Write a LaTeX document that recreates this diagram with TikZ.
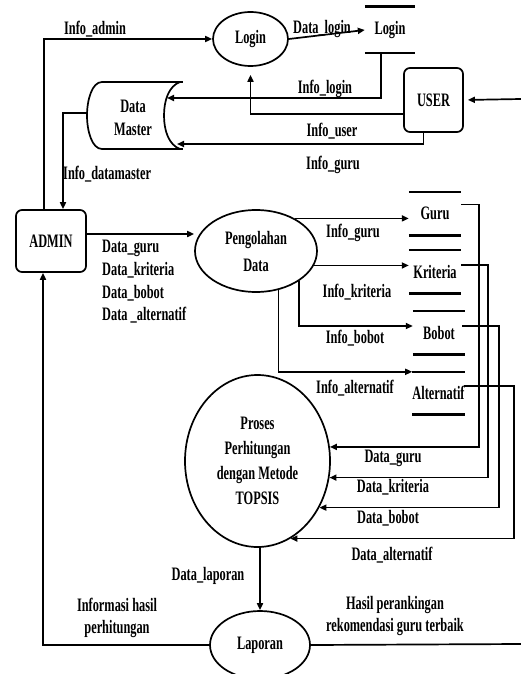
\documentclass[tikz,border=0pt]{standalone}
\usepackage{fontspec}
\setmainfont{Liberation Serif}[FakeStretch=0.65]
\usetikzlibrary{shapes.geometric,arrows.meta,calc}
\begin{document}
\begin{tikzpicture}[x=1pt,y=-1pt,
  txt/.style={font=\fontsize{19}{22.5}\selectfont\bfseries, inner sep=1pt},
  proc/.style={txt, ellipse, draw, line width=1.7pt, inner sep=0pt, align=center},
  ent/.style={txt, draw, rounded corners=6pt, line width=1.7pt, align=center},
  storebox/.style={txt, inner sep=0pt},
  storeline/.style={line width=2.6pt},
  flow/.style={line width=1.7pt, -{Triangle[length=7pt,width=6pt]}},
  plain/.style={line width=1.7pt},
  lbl/.style={txt}]
\path[use as bounding box, clip] (0,0) rectangle (521,674);

% processes
\node[proc, minimum width=75pt, minimum height=54pt] (login) at (250.5,39) {Login};
\node[proc, minimum width=122pt, minimum height=82pt, font=\fontsize{19}{27}\selectfont\bfseries] (peng) at (256,251) {Pengolahan\\Data};
\node[proc, minimum width=145pt, minimum height=172pt, font=\fontsize{19}{25}\selectfont\bfseries] (proses) at (257.5,461) {Proses\\Perhitungan\\dengan Metode\\TOPSIS};
\node[proc, minimum width=100pt, minimum height=68pt] (lap) at (260,645) {Laporan};

% entities
\node[ent, minimum width=59pt, minimum height=64pt] (user) at (433.5,100) {USER};
\node[ent, minimum width=70pt, minimum height=62pt] (admin) at (51,241) {ADMIN};

% data stores
\node[storebox, minimum width=50pt, minimum height=46pt] (lstore) at (390,30) {Login};
\draw[storeline] (lstore.north west) -- (lstore.north east) (lstore.south west) -- (lstore.south east);
\node[storebox, minimum width=52pt, minimum height=43pt] (guru) at (435,213.5) {Guru};
\draw[storeline] (guru.north west) -- (guru.north east) (guru.south west) -- (guru.south east);
\node[storebox, minimum width=52pt, minimum height=43pt] (krit) at (435,271.5) {Kriteria};
\draw[storeline] (krit.north west) -- (krit.north east) (krit.south west) -- (krit.south east);
\node[storebox, minimum width=52pt, minimum height=43pt] (bobot) at (439,332.5) {Bobot};
\draw[storeline] (bobot.north west) -- (bobot.north east) (bobot.south west) -- (bobot.south east);
\node[storebox, minimum width=50pt, minimum height=42pt] (alt) at (438.5,393) {Alternatif};
\draw[storeline] (alt.north west) -- (alt.north east) (alt.south west) -- (alt.south east);

% Data Master store
\node[txt, align=center, font=\fontsize{19}{23}\selectfont\bfseries] (dm) at (133,118) {Data\\Master};
\draw[line width=1.7pt] (102,82) -- (183,82) (102,149) -- (183,149);
\draw[line width=1.7pt] (102,82) .. controls (92,82) and (87,100) .. (87,115.5) .. controls (87,131) and (92,149) .. (102,149);
\draw[line width=1.7pt] (180,82) .. controls (169,86) and (164,100) .. (164,115.5) .. controls (164,131) and (169,145) .. (180,149);
\coordinate (dmA) at (167,98);
\coordinate (dmB) at (177,144);
\coordinate (dmL) at (87,113);
\coordinate (uin) at (521,99);
\coordinate (rEdge) at (521,644);

% connectors
\draw[flow] ([xshift=-7pt]admin.north) |- (login.west);
\draw[flow] (login.east) -- (lstore.west);
\draw[flow] ([xshift=-9pt]lstore.south) |- (dmA);
\draw[flow, shorten >=4pt] (uin) -- (user.east);
\draw[flow, shorten >=8pt] ([yshift=-14pt]user.west) -| (login.south);
\draw[flow] ([xshift=-10pt]user.south) |- (dmB);
\draw[flow] (dmL) -| ([xshift=12pt]admin.north);
\draw[flow] ([yshift=7pt]admin.east) -- ([yshift=7pt]admin.east -| peng.west);

\draw[flow] (peng.40) -- (peng.40 -| guru.west);
\draw[flow] (peng.-14) -- (peng.-14 -| krit.west);
\draw[flow] (peng.-35) |- ([yshift=6.5pt]bobot.west);
\draw[flow] (peng.-60) |- (alt.north west);

\draw[flow] ([yshift=9pt]guru.east) -- ++(18,0) |- (proses.11);
\draw[flow] ([yshift=6.5pt]krit.east) -- ++(27,0) |- (proses.-13);
\draw[flow] ([yshift=6.5pt,xshift=-3pt]bobot.east) -- ++(37,0) |- (proses.-37);
\draw[flow] ([yshift=7pt,xshift=-1pt]alt.east) -- ++(50,0) |- (proses.-67);

\draw[flow] (lap.north |- proses.south) -- (lap.north);
\draw[flow] (lap.west) -| ([xshift=-8pt]admin.south);
\draw[plain] (lap.east) -- (rEdge);

% labels
\node[lbl] (l1) at (95,29) {Info\_admin};
\node[lbl] (l2) at (322,29) {Data\_login};
\node[lbl] (l3) at (325,89) {Info\_login};
\node[lbl] (l4) at (332,131) {Info\_user};
\node[lbl] (l5) at (333,165) {Info\_guru};
\node[lbl, anchor=west] (l6) at (62,174) {Info\_datamaster};
\node[lbl, anchor=west] (l7) at (101,248) {Data\_guru};
\node[lbl, anchor=west] (l8) at (101,270) {Data\_kriteria};
\node[lbl, anchor=west] (l9) at (101,293) {Data\_bobot};
\node[lbl, anchor=west] (l10) at (101,315) {Data \_alternatif};
\node[lbl] (l11) at (353,233) {Info\_guru};
\node[lbl] (l12) at (357,292) {Info\_kriteria};
\node[lbl] (l13) at (355,338) {Info\_bobot};
\node[lbl] (l14) at (355,388) {Info\_alternatif};
\node[lbl] (l15) at (393,458) {Data\_guru};
\node[lbl] (l16) at (393,487) {Data\_kriteria};
\node[lbl] (l17) at (388,518) {Data\_bobot};
\node[lbl] (l18) at (392,555) {Data\_alternatif};
\node[lbl] (l19) at (208,576) {Data\_laporan};
\node[lbl, align=center] (l20) at (117,618) {Informasi hasil\\perhitungan};
\node[lbl, align=center] (l21) at (395,616) {Hasil perankingan\\rekomendasi guru terbaik};
\end{tikzpicture}
\end{document}
